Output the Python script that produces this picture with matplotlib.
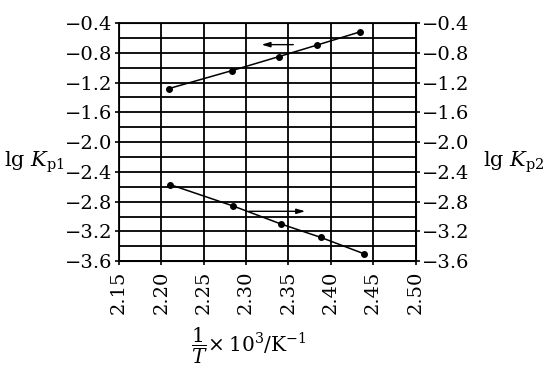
import numpy as np
import matplotlib.pyplot as plt
from matplotlib.ticker import MultipleLocator, FuncFormatter

plt.rcParams['font.family'] = ['DejaVu Serif']
plt.rcParams['mathtext.fontset'] = 'dejavuserif'

# lg Kp1 (left axis, arrow points left)
x1 = [2.209, 2.283, 2.339, 2.384, 2.434]
lgkp1 = [-1.28, -1.04, -0.85, -0.695, -0.52]

# lg Kp2 (right axis, arrow points right)
x2 = [2.21, 2.285, 2.341, 2.388, 2.439]
lgkp2 = [-2.57, -2.86, -3.10, -3.28, -3.50]

xticks = [2.15, 2.20, 2.25, 2.30, 2.35, 2.40, 2.45, 2.50]
yticks = [-0.4, -0.8, -1.2, -1.6, -2.0, -2.4, -2.8, -3.2, -3.6]

yfmt = FuncFormatter(lambda v, p: ('%.1f' % v).replace('-', '\u2212'))

fig = plt.figure(figsize=(5.46, 3.72), dpi=100)
ax = fig.add_axes([0.218, 0.298, 0.543, 0.64])

ax.plot(x1, lgkp1, '-', color='black', lw=1.1, marker='o', ms=4)
ax.plot(x2, lgkp2, '-', color='black', lw=1.1, marker='o', ms=4)

# direction arrows
ax.annotate('', xy=(2.315, -0.69), xytext=(2.359, -0.69),
            arrowprops=dict(arrowstyle='-|>,head_length=0.5,head_width=0.15',
                            color='black', lw=1.0))
ax.annotate('', xy=(2.373, -2.93), xytext=(2.30, -2.93),
            arrowprops=dict(arrowstyle='-|>,head_length=0.5,head_width=0.15',
                            color='black', lw=1.0))

ax.set_xlim(2.15, 2.50)
ax.set_ylim(-3.6, -0.4)
ax.set_xticks(xticks)
ax.set_yticks(yticks)
ax.yaxis.set_minor_locator(MultipleLocator(0.2))
ax.xaxis.set_major_formatter(FuncFormatter(lambda v, p: '%.2f' % v))
ax.yaxis.set_major_formatter(yfmt)
ax.tick_params(axis='x', labelrotation=90, labelsize=14, length=3, width=1.2)
ax.tick_params(axis='y', labelsize=14, length=3, width=1.2, pad=2)
ax.tick_params(axis='y', which='minor', length=0)
ax.grid(True, which='both', color='black', lw=1.3)
for s in ax.spines.values():
    s.set_linewidth(1.3)

ax2 = ax.twinx()
ax2.set_ylim(-3.6, -0.4)
ax2.set_yticks(yticks)
ax2.yaxis.set_major_formatter(yfmt)
ax2.tick_params(axis='y', labelsize=14, length=3, width=1.2, pad=2)

fig.text(0.008, 0.565, r'lg $K_{\rm p1}$', fontsize=15, va='center', ha='left')
fig.text(0.885, 0.565, r'lg $K_{\rm p2}$', fontsize=15, va='center', ha='left')
fig.text(0.455, 0.07, r'$\dfrac{1}{T}\!\times 10^3/\mathrm{K}^{-1}$',
         fontsize=14.5, va='center', ha='center')

fig.savefig('out.png', dpi=100)
